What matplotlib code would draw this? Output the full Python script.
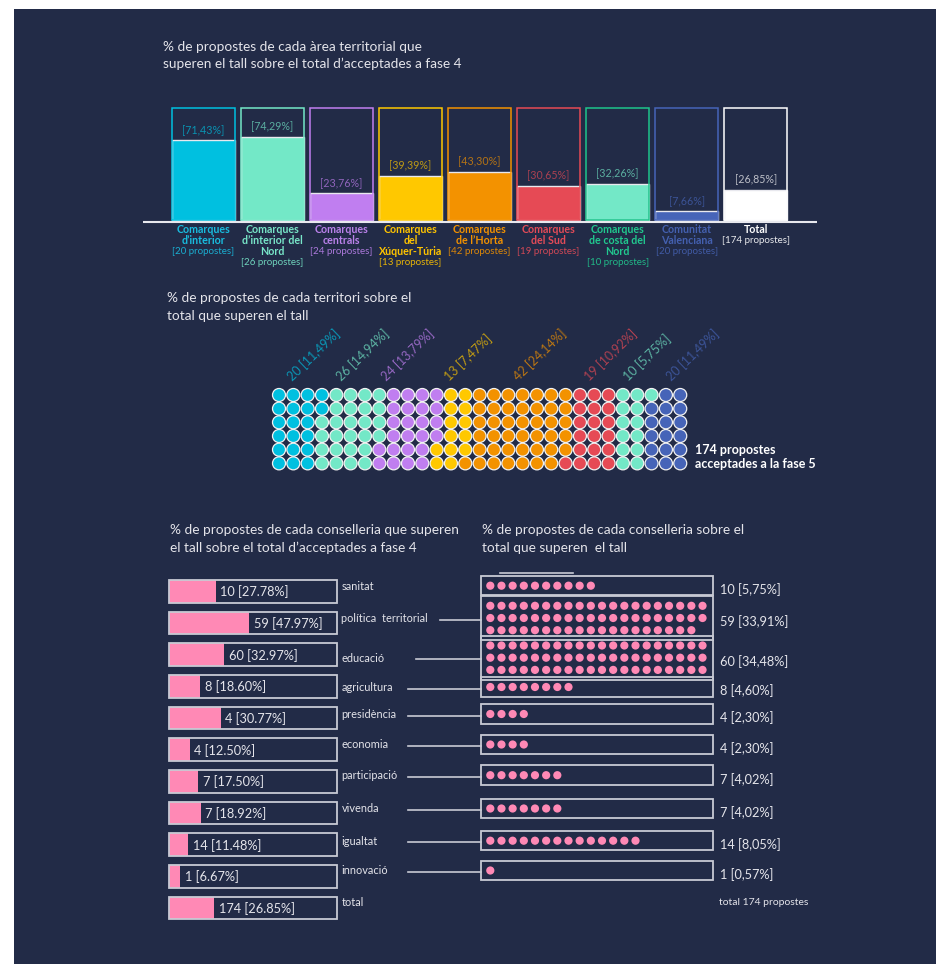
import matplotlib
matplotlib.use("Agg")
import matplotlib.pyplot as plt
from matplotlib.patches import Rectangle, Circle
from matplotlib.colors import to_rgb

plt.rcParams['font.family'] = ['Lato', 'DejaVu Sans']

# ---------------- DATA ----------------
area_names = ["Comarques\nd’interior", "Comarques\nd’interior del\nNord", "Comarques\ncentrals",
              "Comarques\ndel\nXúquer-Túria", "Comarques\nde l’Horta", "Comarques\ndel Sud",
              "Comarques\nde costa del\nNord", "Comunitat\nValenciana", "Total"]
area_counts = [20, 26, 24, 13, 42, 19, 10, 20, 174]
area_pct = [71.43, 74.29, 23.76, 39.39, 43.30, 30.65, 32.26, 7.66, 26.85]

territory_counts = [20, 26, 24, 13, 42, 19, 10, 20]
territory_pct = [11.49, 14.94, 13.79, 7.47, 24.14, 10.92, 5.75, 11.49]
waffle_dots = [20, 26, 24, 13, 42, 19, 13, 17]   # dots as drawn in the picture

consell_names = ["sanitat", "política  territorial", "educació", "agricultura", "presidència",
                 "economia", "participació", "vivenda", "igualtat", "innovació"]
consell_n = [10, 59, 60, 8, 4, 4, 7, 7, 14, 1]
consell_pct_phase4 = [27.78, 47.97, 32.97, 18.60, 30.77, 12.50, 17.50, 18.92, 11.48, 6.67]
consell_share = [5.75, 33.91, 34.48, 4.60, 2.30, 2.30, 4.02, 4.02, 8.05, 0.57]
total_n = 174
total_pct = 26.85

# ---------------- STYLE / LAYOUT ----------------
BG = "#222b47"
TXT = "#e4e4ea"
GREY = "#c8cad4"
PINK = "#ff89b5"
fill_cols = ["#00c0e0", "#73e8c7", "#c07ef0", "#ffc800", "#f39200", "#e64a55", "#73e8c7", "#4664b8", "#ffffff"]
edge_cols = ["#00c0e0", "#73e8c7", "#c07ef0", "#ffc800", "#f39200", "#e64a55", "#1ec48c", "#4664b8", "#ffffff"]
name_cols = ["#19bde0", "#78e6c9", "#bb82ec", "#ffc400", "#f39200", "#e44b58", "#21c98f", "#4460b0", "#ffffff"]


def blend(c, a):
    r, g, b = to_rgb(c)
    br, bg, bb = to_rgb(BG)
    return (r * a + br * (1 - a), g * a + bg * (1 - a), b * a + bb * (1 - a))


fig = plt.figure(figsize=(9.37, 9.64), dpi=100)
fig.patch.set_facecolor("white")
ax = fig.add_axes([0, 0, 1, 1])
ax.set_xlim(0, 937)
ax.set_ylim(964, 0)
ax.axis("off")

ax.add_patch(Rectangle((14, 9), 937 - 14, 964 - 9, facecolor=BG, edgecolor="none", zorder=0))

TITLE_FS = 9.8

# ---------------- SECTION 1: bars ----------------
ax.text(163, 47, "% de propostes de cada àrea territorial que", color=TXT, fontsize=TITLE_FS, va="center", ha="left")
ax.text(163, 64, "superen el tall sobre el total d’acceptades a fase 4", color=TXT, fontsize=TITLE_FS, va="center", ha="left")

bar_left0, bar_step, bar_w = 171.7, 69.08, 63
bar_top, bar_bot = 108.3, 220.0
bar_h = bar_bot - bar_top
for i, (name, n, p) in enumerate(zip(area_names, area_counts, area_pct)):
    x0 = bar_left0 + i * bar_step
    cx = x0 + bar_w / 2
    fh = p / 100 * bar_h
    ax.add_patch(Rectangle((x0, bar_bot - fh), bar_w, fh, facecolor=fill_cols[i],
                           edgecolor="#e8e8ee", linewidth=1.0, zorder=2))
    ax.add_patch(Rectangle((x0, bar_top), bar_w, bar_h, facecolor="none",
                           edgecolor=edge_cols[i], linewidth=1.1, zorder=3))
    ax.text(cx, bar_bot - fh - 10, f"[{p:.2f}%]".replace(".", ","), color=blend(fill_cols[i], 0.7),
            fontsize=7.7, ha="center", va="center", zorder=4)
    lines = name.split("\n")
    y = 229.3
    for ln in lines:
        ax.text(cx, y, ln, color=name_cols[i], fontsize=7.7, fontweight="bold", ha="center", va="center")
        y += 11.0
    ax.text(cx, y + 0.4, f"[{n} propostes]", color=blend(name_cols[i], 0.9), fontsize=7,
            ha="center", va="center")

ax.plot([143, 817], [221.5, 221.5], color="#e8e8ee", linewidth=1.5, zorder=5, solid_capstyle="butt")

# ---------------- SECTION 2: waffle ----------------
ax.text(167, 298, "% de propostes de cada territori sobre el", color=TXT, fontsize=TITLE_FS, va="center")
ax.text(167, 316, "total que superen el tall", color=TXT, fontsize=TITLE_FS, va="center")

wx0, wdx = 279.0, 14.33
wy0, wdy = 395.0, 13.67
nrows = 6
k = 0
for gi, nd in enumerate(waffle_dots):
    for _ in range(nd):
        col, row = divmod(k, nrows)
        ax.add_patch(Circle((wx0 + col * wdx, wy0 + row * wdy), 6.5, facecolor=fill_cols[gi],
                            edgecolor="#f2f2f2", linewidth=0.9, zorder=3))
        k += 1

label_x = [293, 342, 387, 450, 519, 590, 629, 672]
for gi, (n, p) in enumerate(zip(territory_counts, territory_pct)):
    ax.text(label_x[gi], 382, f"{n} [{p:.2f}%]".replace(".", ","), color=blend(fill_cols[gi], 0.72),
            fontsize=9, rotation=44, rotation_mode="anchor", ha="left", va="baseline")

ax.text(695, 450, "174 propostes", color="white", fontsize=9, fontweight="bold", va="center")
ax.text(695, 464, "acceptades a la fase 5", color="white", fontsize=9, fontweight="bold", va="center")

# ---------------- SECTION 3: conselleries ----------------
ax.text(170, 530.5, "% de propostes de cada conselleria que superen", color=TXT, fontsize=TITLE_FS, va="center")
ax.text(170, 547.5, "el tall sobre el total d’acceptades a fase 4", color=TXT, fontsize=TITLE_FS, va="center")
ax.text(482, 530.5, "% de propostes de cada conselleria sobre el", color=TXT, fontsize=TITLE_FS, va="center")
ax.text(482, 547.5, "total que superen  el tall", color=TXT, fontsize=TITLE_FS, va="center")

# left bars
lx0, lx1 = 169.0, 336.7
lw = lx1 - lx0
lh = 22.7
ly0, ldy = 591.3, 31.67
left_n = consell_n + [total_n]
left_p = consell_pct_phase4 + [total_pct]
for i, (n, p) in enumerate(zip(left_n, left_p)):
    cy = ly0 + i * ldy
    fw = p / 100 * lw
    ax.add_patch(Rectangle((lx0, cy - lh / 2), fw, lh, facecolor=PINK, edgecolor="none", zorder=2))
    ax.add_patch(Rectangle((lx0, cy - lh / 2), lw, lh, facecolor="none", edgecolor=GREY,
                           linewidth=1.3, zorder=3))
    ax.text(lx0 + fw + 4.5, cy + 0.5, f"{n} [{p:.2f}%]", color=TXT, fontsize=9.2, va="center", ha="left", zorder=4)

# right dot boxes
rx0, rx1 = 481.0, 713.3
r_centers = [585.7, 618.0, 657.7, 687.0, 714.0, 744.5, 775.2, 808.5, 840.7, 870.5]
dot_dx, dot_dy, per_row = 11.17, 12.2, 20
line_start = [None, 440, 416, 408, 408, 408, 408, 408, 408, 408]
for i, (name, n, s) in enumerate(zip(consell_names, consell_n, consell_share)):
    cy = r_centers[i]
    rows = (n + per_row - 1) // per_row
    h = 19.5 + (rows - 1) * dot_dy
    ax.add_patch(Rectangle((rx0, cy - h / 2), rx1 - rx0, h, facecolor="none", edgecolor=GREY,
                           linewidth=1.3, zorder=3))
    for d in range(n):
        r, c = divmod(d, per_row)
        ax.add_patch(Circle((rx0 + 9.3 + c * dot_dx, cy - (rows - 1) * dot_dy / 2 + r * dot_dy), 4.1,
                            facecolor=PINK, edgecolor="none", zorder=4))
    ax.text(720.5, cy + 4, f"{n} [{s:.2f}%]".replace(".", ","), color=TXT, fontsize=9.2, va="center")
    ax.text(341.5, cy + 0.5, name, color=TXT, fontsize=7.9, va="center")
    if line_start[i] is not None:
        ax.plot([line_start[i], rx0], [cy + 1.5, cy + 1.5], color=GREY, linewidth=1.2, zorder=2)

ax.text(341.5, 902.3, "total", color=TXT, fontsize=7.9, va="center")
ax.text(719, 902.3, f"total {total_n} propostes", color=TXT, fontsize=7.5, va="center")
ax.plot([500, 573], [573.3, 573.3], color=GREY, linewidth=1.2)

fig.savefig("out.png", dpi=100, facecolor="white")
